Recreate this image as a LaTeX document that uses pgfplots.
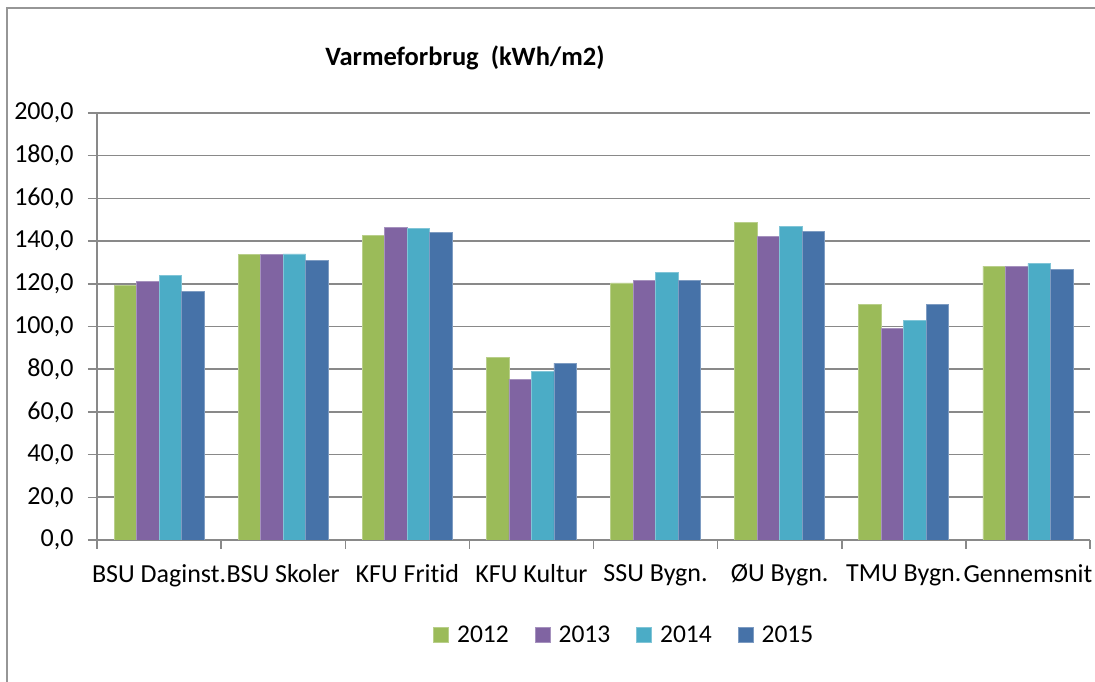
\documentclass[border=0pt]{standalone}
\usepackage{fontspec}
\setmainfont{Carlito}[Ligatures=NoCommon]
\usepackage{pgfplots}
\pgfplotsset{compat=1.18}
\definecolor{c1}{HTML}{9BBB59}
\definecolor{c2}{HTML}{8064A2}
\definecolor{c3}{HTML}{4BACC6}
\definecolor{c4}{HTML}{4672A8}
\definecolor{gridc}{HTML}{898989}
\definecolor{framec}{HTML}{969696}
\begin{document}
\begin{tikzpicture}
\path[use as bounding box] (0,0) rectangle (1095pt,682pt);
\draw[framec, line width=1.5pt] (7pt,0pt) -- (7pt,674pt) -- (1095pt,674pt);
\node[font=\fontsize{26.5}{30}\selectfont\bfseries, anchor=base] at (465pt,616pt) {Varmeforbrug\ \ (kWh/m2)};
\begin{axis}[
  at={(97pt,142pt)}, anchor=south west,
  scale only axis, width=993pt, height=427pt,
  ybar=0pt, bar width=22.5pt,
  xmin=-0.5, xmax=7.5, ymin=0, ymax=200,
  ytick={0,20,...,200},
  minor ytick={0,20,...,200},
  xtick={0,1,2,3,4,5,6,7},
  xticklabels={BSU Daginst., BSU Skoler, KFU Fritid, KFU Kultur, SSU Bygn., ØU Bygn., TMU Bygn., Gennemsnit},
  minor xtick={-0.5,0.5,...,7.5},
  axis x line*=bottom, axis y line*=left,
  axis line style={draw=gridc, line width=1.5pt, -},
  tick style={draw=gridc, line width=1.5pt},
  tick align=outside, major tick length=0pt, minor tick length=9pt,
  ymajorgrids, grid style={draw=gridc, line width=1.6pt},
  tick label style={font=\fontsize{26}{30}\selectfont},
  xticklabel style={yshift=-21pt},
  yticklabel style={xshift=-20pt, /pgf/number format/.cd, fixed, fixed zerofill, precision=1, use comma, assume math mode=true},
  legend columns=4,
  legend style={at={(0.531,-0.2225)}, anchor=center, draw=none, font=\fontsize{25.5}{30}\selectfont,
    /tikz/every even column/.append style={column sep=24pt}},
  legend image code/.code={\fill[#1] (0pt,-7.5pt) rectangle (15pt,7.5pt); \path (21pt,0pt);},
]
\addplot[fill=c1, draw=c1!70!white, line width=0.8pt] coordinates {(0,119.1) (1,133.8) (2,142.7) (3,85.7) (4,120.4) (5,148.6) (6,110.4) (7,128.3)};
\addplot[fill=c2, draw=c2!70!white, line width=0.8pt] coordinates {(0,121.0) (1,133.8) (2,146.6) (3,75.4) (4,121.6) (5,142.2) (6,99.0) (7,128.2)};
\addplot[fill=c3, draw=c3!70!white, line width=0.8pt] coordinates {(0,123.7) (1,134.0) (2,145.8) (3,78.8) (4,125.2) (5,146.8) (6,102.9) (7,129.6)};
\addplot[fill=c4, draw=c4!70!white, line width=0.8pt] coordinates {(0,116.5) (1,131.1) (2,144.1) (3,82.8) (4,121.6) (5,144.7) (6,110.4) (7,126.9)};
\legend{2012,2013,2014,2015}
\end{axis}
\end{tikzpicture}
\end{document}
